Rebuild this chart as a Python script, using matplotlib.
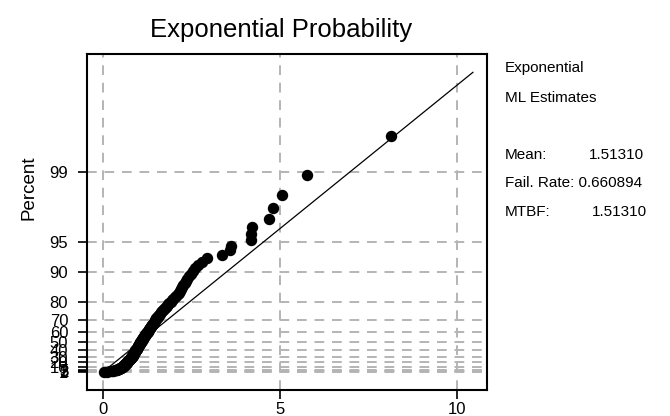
import numpy as np
import matplotlib
matplotlib.use('Agg')
import matplotlib.pyplot as plt

plt.rcParams['font.family'] = ['Liberation Sans Narrow', 'Liberation Sans', 'DejaVu Sans']

# failure times (sorted, 160 units)
times = [
    0.02,
    0.12, 0.19, 0.25, 0.29, 0.33, 0.36, 0.38, 0.40,
    0.42, 0.44, 0.46, 0.48, 0.49, 0.51, 0.52, 0.54, 0.55,
    0.56, 0.57, 0.58, 0.59, 0.60, 0.60, 0.61, 0.62, 0.63,
    0.64, 0.65, 0.66, 0.67, 0.67, 0.68, 0.69, 0.70, 0.71, 0.72, 0.73, 0.74,
    0.75, 0.76, 0.77, 0.77, 0.78, 0.79, 0.80, 0.81, 0.81, 0.82, 0.83, 0.84, 0.85,
    0.86, 0.86, 0.87, 0.88, 0.88, 0.89, 0.90, 0.90, 0.91, 0.92, 0.92, 0.93,
    0.94, 0.95, 0.96, 0.96, 0.97, 0.98, 0.99, 0.99, 1.00, 1.01, 1.02,
    1.03, 1.04, 1.05, 1.06, 1.06, 1.07, 1.08, 1.09, 1.10,
    1.11, 1.12, 1.13, 1.14, 1.15, 1.16, 1.18, 1.19,
    1.20, 1.22, 1.23, 1.24, 1.26, 1.27, 1.28, 1.30,
    1.31, 1.33, 1.34, 1.35, 1.37, 1.38,
    1.40, 1.41, 1.43, 1.44, 1.46, 1.47,
    1.49, 1.51, 1.53, 1.55, 1.56, 1.58,
    1.61, 1.63, 1.66, 1.69,
    1.72, 1.75, 1.78, 1.81,
    1.84, 1.87, 1.91, 1.95,
    1.99, 2.03, 2.07, 2.11, 2.14, 2.18,
    2.21, 2.24, 2.27, 2.31, 2.34,
    2.38, 2.43, 2.48, 2.54,
    2.61, 2.68, 2.80, 2.94,
    3.36, 3.58, 3.62, 4.17, 4.19, 4.22, 4.69, 4.80, 5.06, 5.76, 8.14,
]

# ML estimates shown in the side panel
mean_est = 1.51310
fail_rate = 0.660894
mtbf = 1.51310

pct_ticks = [99, 95, 90, 80, 70, 60, 50, 40, 30, 20, 10, 5, 3, 2, 1]
x_ticks = [0, 5, 10]


def score(p):
    # percent -> exponential probability scale
    return -np.log(1 - np.asarray(p, dtype=float) / 100.0)


n = len(times)
ranks = np.arange(1, n + 1)
pos = (ranks - 0.3) / (n + 0.4)  # median ranks
yq = -np.log(1 - pos)

W, H = 670, 416
fig = plt.figure(figsize=(W / 100, H / 100), dpi=100)
ax = fig.add_axes([87 / W, 1 - 390 / H, 400 / W, 336 / H])

grid_kw = dict(color='#b4b4b4', lw=1.4, dashes=(5, 4), zorder=1)
for v in x_ticks:
    ax.axvline(v, **grid_kw)
for q in score(pct_ticks):
    ax.axhline(q, **grid_kw)

# fitted line from 0.1 to 99.9 percent
qline = score([0.1, 99.9])
ax.plot(mean_est * qline, qline, color='black', lw=0.9, zorder=2)

ax.plot(times, yq, 'o', color='black', ms=7.2, zorder=3)

ax.set_xlim(-0.45, 10.85)
ax.set_ylim(-0.415, 7.33)
ax.set_xticks(x_ticks)
ax.set_xticklabels([str(v) for v in x_ticks])
ax.set_yticks(score(pct_ticks))
ax.set_yticklabels([str(v) for v in pct_ticks])
ax.tick_params(axis='both', direction='out', length=6.5, width=1.2,
               labelsize=12, color='black')
ax.tick_params(axis='y', pad=7)
ax.tick_params(axis='x', pad=2)
for s in ax.spines.values():
    s.set_linewidth(1.5)

fig.text(281 / W, 1 - 30 / H, 'Exponential Probability', ha='center',
         va='center', fontsize=18.5)
fig.text(29 / W, 1 - 188 / H, 'Percent', rotation=90, ha='center',
         va='center', fontsize=13.5)

tx = 505 / W
fs = 11
fig.text(tx, 1 - 68 / H, 'Exponential', fontsize=fs, va='center')
fig.text(tx, 1 - 98 / H, 'ML Estimates', fontsize=fs, va='center')
fig.text(tx, 1 - 155 / H, 'Mean:', fontsize=fs, va='center')
fig.text(589 / W, 1 - 155 / H, f'{mean_est:.5f}', fontsize=fs, va='center')
fig.text(tx, 1 - 183 / H, f'Fail. Rate: {fail_rate:.6f}', fontsize=fs,
         va='center')
fig.text(tx, 1 - 212 / H, 'MTBF:', fontsize=fs, va='center')
fig.text(592 / W, 1 - 212 / H, f'{mtbf:.5f}', fontsize=fs, va='center')

fig.savefig('out.png', dpi=100)
